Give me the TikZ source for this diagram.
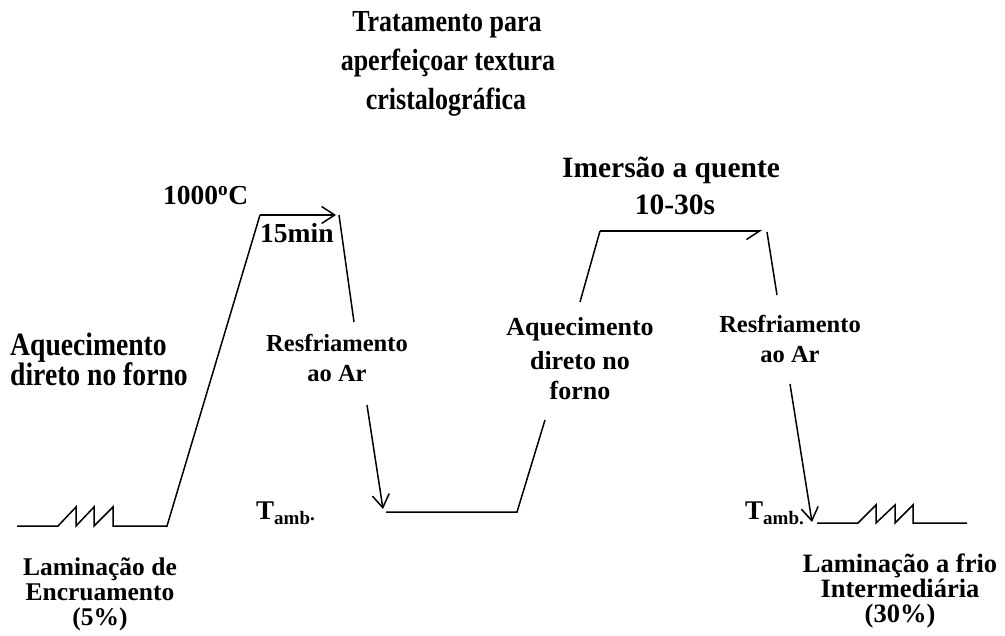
\documentclass[tikz,border=0pt]{standalone}
\usepackage{fontspec}
\setmainfont{Liberation Serif}
\newfontfamily\tallfont{Liberation Serif}[FakeStretch=0.85]
\usetikzlibrary{arrows.meta}
\newcommand{\fsz}[1]{\fontsize{#1}{#1}\selectfont\bfseries}
\newcommand{\tsz}[1]{\tallfont\fontsize{#1}{#1}\selectfont\bfseries}
\begin{document}
\begin{tikzpicture}[x=1pt,y=-1pt,
  curve/.style={line width=1.5pt,line join=miter},
  tipped/.style={curve,-{Straight Barb[length=13pt,width=17pt,line width=1.5pt]}},
  halftip/.style={curve,-{Straight Barb[harpoon,swap,length=13pt,width=17pt,line width=1.5pt]}},
  lbl/.style={inner sep=0pt,anchor=base},
  lbll/.style={inner sep=0pt,anchor=base west},
]
\useasboundingbox (0,0) rectangle (1005,636);
% title
\node[lbl,font=\tsz{30.6}] (t1) at (447,32) {Tratamento para};
\node[lbl,font=\tsz{30.6}] (t2) at (448,71) {aperfeiçoar textura};
\node[lbl,font=\tsz{30.6}] (t3) at (446,110) {cristalográfica};
% coordinates of the curve
\coordinate (a0) at (17,526);
\coordinate (a1) at (58,526);
\coordinate (z1) at (76,507); \coordinate (z2) at (76,526);
\coordinate (z3) at (94,507); \coordinate (z4) at (94,526);
\coordinate (z5) at (113,507); \coordinate (z6) at (113,526);
\coordinate (a2) at (167,526);
\coordinate (p1) at (260,215);
\coordinate (p2) at (336,215);
\coordinate (d1) at (339,215);
\coordinate (d2) at (354,322);
\coordinate (e1) at (367,405);
\coordinate (e2) at (383,509);
\coordinate (b1) at (386,512);
\coordinate (b2) at (517,512);
\coordinate (r1) at (545,420);
\coordinate (r2) at (580,302);
\coordinate (q1) at (600,231);
\coordinate (q2) at (762,231);
\coordinate (f1) at (767,232);
\coordinate (f2) at (777,295);
\coordinate (g1) at (790,384);
\coordinate (g2) at (812,522);
\coordinate (c0) at (817,523);
\coordinate (c1) at (858,523);
\coordinate (y1) at (876,505); \coordinate (y2) at (876,523);
\coordinate (y3) at (895,505); \coordinate (y4) at (895,523);
\coordinate (y5) at (913,505); \coordinate (y6) at (913,523);
\coordinate (c2) at (967,523);
% lines
\draw[curve] (a0) -- (a1) -- (z1) -- (z2) -- (z3) -- (z4) -- (z5) -- (z6) -- (a2) -- (p1);
\draw[tipped] (p1) -- (p2);
\draw[curve] (d1) -- (d2);
\draw[tipped] (e1) -- (e2);
\draw[curve] (b1) -- (b2) -- (r1);
\draw[curve] (r2) -- (q1);
\draw[halftip] (q1) -- (q2);
\draw[curve] (f1) -- (f2);
\draw[tipped] (g1) -- (g2);
\draw[curve] (c0) -- (c1) -- (y1) -- (y2) -- (y3) -- (y4) -- (y5) -- (y6) -- (c2);
% labels
\node[lbll,font=\fsz{27.5}] (temp) at (163,205) {1000\textsuperscript{o}C};
\node[lbll,font=\fsz{27.5}] (time1) at (260,243) {15min};
\node[lbll,font=\tsz{32.5}] (aq1a) at (10,356) {Aquecimento};
\node[lbll,font=\tsz{32.5}] (aq1b) at (10,386) {direto no forno};
\node[lbl,font=\fsz{24.5}] (rs1a) at (337,352) {Resfriamento};
\node[lbl,font=\fsz{24.5}] (rs1b) at (337,382) {ao Ar};
\node[lbl,font=\fsz{26}] (aq2a) at (580,336) {Aquecimento};
\node[lbl,font=\fsz{26}] (aq2b) at (580,370) {direto no};
\node[lbl,font=\fsz{26}] (aq2c) at (580,400) {forno};
\node[lbl,font=\fsz{29.5}] (im1) at (671,178) {Imersão a quente};
\node[lbl,font=\fsz{29.5}] (im2) at (675,215) {10-30s};
\node[lbl,font=\fsz{24.5}] (rs2a) at (790,333) {Resfriamento};
\node[lbl,font=\fsz{24.5}] (rs2b) at (790,363) {ao Ar};
\node[lbll,font=\fsz{27}] (ta1) at (256,519) {T\raisebox{-5pt}{\fsz{19}amb\raisebox{4pt}{.}}};
\node[lbll,font=\fsz{27}] (ta2) at (745,519) {T\raisebox{-5pt}{\fsz{19}amb.}};
\node[lbl,font=\fsz{25.5}] (lm1a) at (100,575) {Laminação de};
\node[lbl,font=\fsz{25.5}] (lm1b) at (100,600) {Encruamento};
\node[lbl,font=\fsz{25.5}] (lm1c) at (100,625) {(5\%)};
\node[lbl,font=\fsz{26.5}] (lm2a) at (900,572) {Laminação a frio};
\node[lbl,font=\fsz{26.5}] (lm2b) at (900,597) {Intermediária};
\node[lbl,font=\fsz{26.5}] (lm2c) at (900,622) {(30\%)};
\end{tikzpicture}
\end{document}
